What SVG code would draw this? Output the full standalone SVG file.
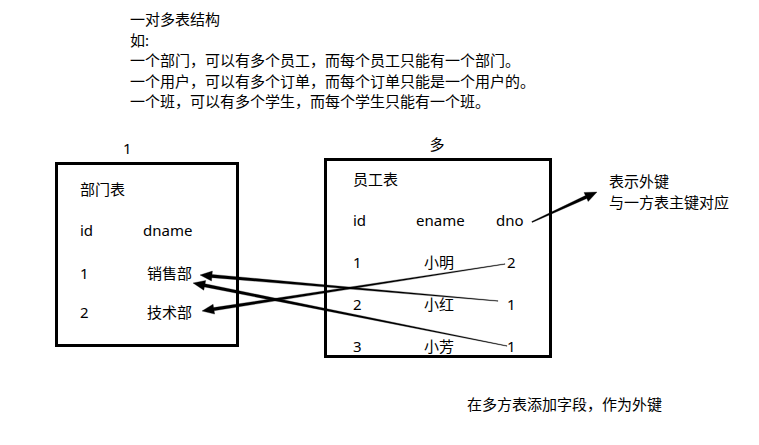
<svg xmlns="http://www.w3.org/2000/svg" width="759" height="445" viewBox="0 0 759 445">
<style>
text{font-family:"Noto Sans","Noto Sans CJK SC",sans-serif;font-size:15px;fill:#000}
.box{fill:none;stroke:#000;stroke-width:3}
.conn{fill:#000;stroke:#000;stroke-width:0.3;stroke-linejoin:round}
</style>
<rect width="759" height="445" fill="#fff"/>
<g id="title">
<text x="130" y="25">一对多表结构</text>
<text x="130" y="46">如:</text>
<text x="130" y="66">一个部门，可以有多个员工，而每个员工只能有一个部门。</text>
<text x="130" y="87">一个用户，可以有多个订单，而每个订单只能是一个用户的。</text>
<text x="130" y="107">一个班，可以有多个学生，而每个学生只能有一个班。</text>
</g>
<g id="dept">
<text x="123" y="154">1</text>
<rect class="box" x="56.5" y="163.5" width="181" height="182"/>
<text x="80" y="195">部门表</text>
<text x="80" y="236">id</text>
<text x="143" y="236">dname</text>
<text x="80" y="279">1</text>
<text x="147" y="279">销售部</text>
<text x="80" y="318">2</text>
<text x="147" y="318">技术部</text>
</g>
<g id="emp">
<text x="437" y="150" text-anchor="middle">多</text>
<rect class="box" x="325.5" y="159.5" width="225" height="197"/>
<text x="353" y="185">员工表</text>
<text x="353" y="226">id</text>
<text x="416" y="226">ename</text>
<text x="496" y="226">dno</text>
<text x="353" y="268">1</text>
<text x="424" y="268">小明</text>
<text x="507" y="268">2</text>
<text x="353" y="310">2</text>
<text x="424" y="310">小红</text>
<text x="507" y="310">1</text>
<text x="353" y="352">3</text>
<text x="424" y="352">小芳</text>
<text x="507" y="352">1</text>
</g>
<g id="note">
<text x="609" y="187">表示外键</text>
<text x="609" y="208">与一方表主键对应</text>
</g>
<g id="footer">
<text x="467" y="410">在多方表添加字段，作为外键</text>
</g>
<g id="connectors">
<polygon class="conn" points="532.21,222.45 586.77,198.48 588.2,201.57 597,192 584.0,192.49 585.43,195.58 531.79,221.55"/>
<polygon class="conn" points="504.95,263.7 213.61,307.58 213.09,304.22 202,311 214.63,314.1 214.1,310.74 505.05,264.3"/>
<polygon class="conn" points="498.03,300.7 212.1,274.45 212.39,271.06 200,275 211.53,281.02 211.82,277.63 497.97,301.3"/>
<polygon class="conn" points="507.06,345.71 205.08,283.79 205.74,280.46 193,283 203.78,290.26 204.45,286.93 506.94,346.29"/>
</g>
</svg>
